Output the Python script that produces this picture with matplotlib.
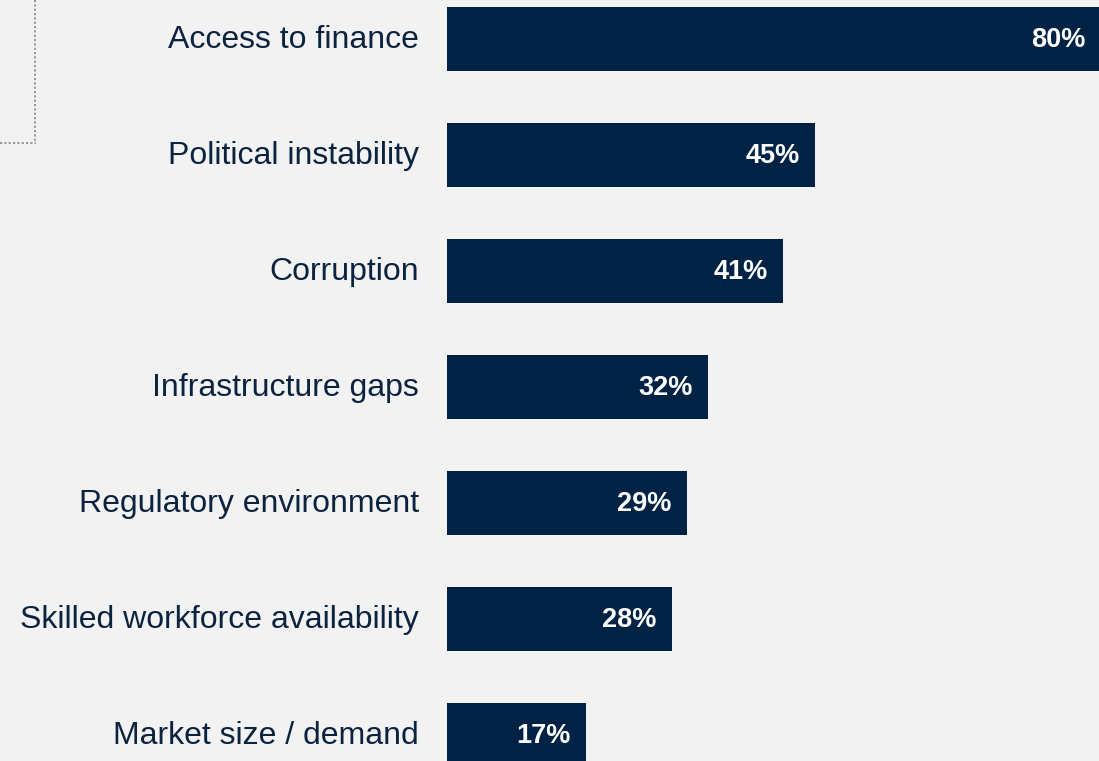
import matplotlib
matplotlib.use("Agg")
import matplotlib.pyplot as plt
from matplotlib.lines import Line2D

categories = ["Access to finance", "Political instability", "Corruption",
              "Infrastructure gaps", "Regulatory environment",
              "Skilled workforce availability", "Market size / demand"]
values = [80, 45, 41.1, 31.9, 29.35, 27.5, 17]
value_labels = ["80%", "45%", "41%", "32%", "29%", "28%", "17%"]

BG = "#f2f2f2"
BAR = "#002244"
TXT = "#0c2340"

W, H = 1099, 761
fig = plt.figure(figsize=(W / 100, H / 100), dpi=100, facecolor=BG)
ax_left = 447 / W
ax = fig.add_axes([ax_left, 0, 1 - ax_left, 1])
ax.set_facecolor(BG)
px_per_unit = 8.178
ax.set_xlim(0, (W - 447) / px_per_unit)
pitch = 116.0
c0 = 38.75
ax.set_ylim((H - c0) / pitch, -c0 / pitch)

ypos = list(range(len(categories)))
ax.barh(ypos, values, height=63.5 / pitch, color=BAR, edgecolor="none")

for y, v, lab, cat in zip(ypos, values, value_labels, categories):
    ax.annotate(lab, xy=(v, y), xytext=(-11, -0.7), textcoords="offset points",
                ha="right", va="center", color="white", fontsize=19.5,
                fontweight="bold", family="Liberation Sans",
                annotation_clip=False)
    ax.annotate(cat, xy=(0, y), xytext=(-20.2, -0.7), textcoords="offset points",
                ha="right", va="center", color=TXT, fontsize=23,
                family="Liberation Sans", annotation_clip=False)

for s in ax.spines.values():
    s.set_visible(False)
ax.set_xticks([])
ax.set_yticks([])

# dotted frame fragment at top-left
fig.add_artist(Line2D([34.5 / W, 34.5 / W], [1, 1 - 143 / H], transform=fig.transFigure,
                      color="#909090", lw=1.3, linestyle=(0, (1.2, 1.2))))
fig.add_artist(Line2D([0, 36 / W], [1 - 143 / H, 1 - 143 / H], transform=fig.transFigure,
                      color="#909090", lw=1.3, linestyle=(0, (1.2, 1.2))))

fig.savefig("out.png", dpi=100, facecolor=BG)
